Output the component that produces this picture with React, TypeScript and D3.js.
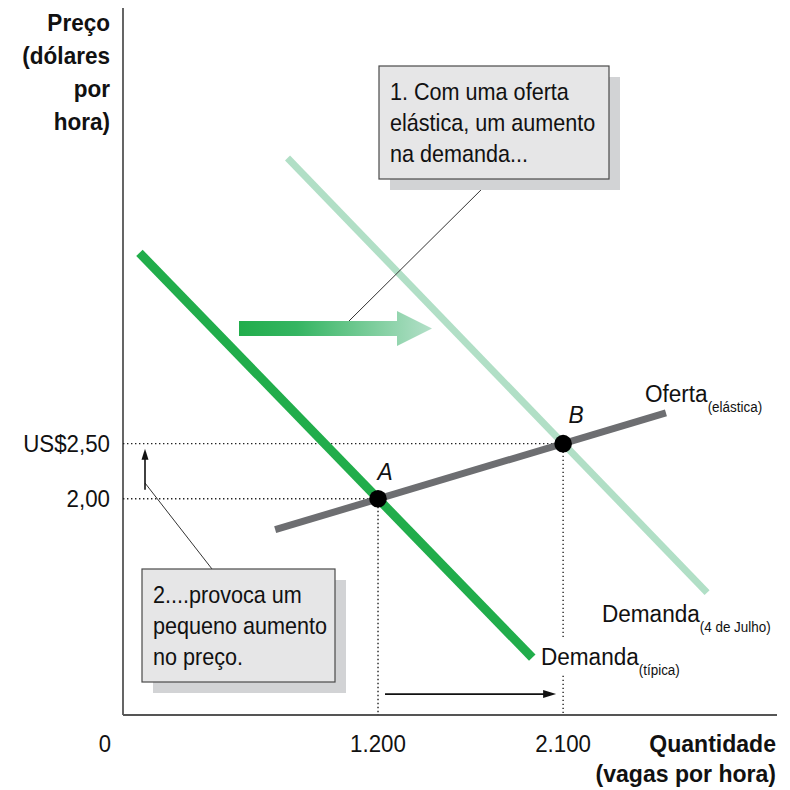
import React from "react";
import * as d3 from "d3";

// quantity (vagas por hora) and price (dólares por hora)
const quantityTicks = [1200, 2100];
const quantityTickLabels = ["1.200", "2.100"];
const priceTicks = [2.0, 2.5];
const priceTickLabels = ["2,00", "US$2,50"];

// curves as [quantity, price] end points
const demandTypical: [number, number][] = [
  [40, 4.23],
  [1950, 0.56],
];
const demandJuly4: [number, number][] = [
  [760, 5.09],
  [2800, 1.15],
];
const supplyElastic: [number, number][] = [
  [700, 1.72],
  [2600, 2.78],
];

const equilibriumNames = ["A", "B"];
const equilibriumQty = [1200, 2100];
const equilibriumPrice = [2.0, 2.5];

const box1Lines = ["1. Com uma oferta", "elástica, um aumento", "na demanda..."];
const box2Lines = ["2....provoca um", "pequeno aumento", "no preço."];
const yTitleLines = ["Preço", "(dólares", "por", "hora)"];

const W = 790;
const H = 790;
const left = 123;
const right = 777;
const top = 8;
const bottom = 715;

const FONT = "'Liberation Sans', Arial, Helvetica, sans-serif";
const DARK_GREEN = "#21ad4b";
const LIGHT_GREEN = "#b1dfc6";
const SUPPLY_GRAY = "#6d6e71";
const BOX_FILL = "#e6e6e7";
const SHADOW = "#d2d3d5";

// slightly condensed text, like the narrow Helvetica of the original
function T(props: {
  x: number;
  y: number;
  size: number;
  sx?: number;
  anchor?: string;
  bold?: boolean;
  italic?: boolean;
  children: React.ReactNode;
}) {
  const { x, y, size, sx = 0.92, anchor = "start", bold, italic, children } = props;
  return (
    <g transform={`translate(${x},${y}) scale(${sx},1)`}>
      <text
        x={0}
        y={0}
        fontSize={size}
        textAnchor={anchor}
        fontWeight={bold ? "bold" : "normal"}
        fontStyle={italic ? "italic" : "normal"}
        fill="#111"
      >
        {children}
      </text>
    </g>
  );
}

export default function App() {
  const x = d3.scaleLinear().domain([-40, 3140]).range([left, right]);
  const y = d3.scaleLinear().domain([0.04, 6.45]).range([bottom, top]);

  const line = d3
    .line<[number, number]>()
    .x((d) => x(d[0]))
    .y((d) => y(d[1]));

  const points = equilibriumNames.map((name, i) => ({
    name,
    q: equilibriumQty[i],
    p: equilibriumPrice[i],
  }));

  const A = points[0];
  const B = points[1];

  // annotation box helper
  const box = (bx: number, by: number, bw: number, bh: number, lines: string[], key: string) => (
    <g key={key}>
      <rect x={bx + 11} y={by + 11} width={bw} height={bh} fill={SHADOW} />
      <rect x={bx} y={by} width={bw} height={bh} fill={BOX_FILL} stroke="#4a4a4a" strokeWidth={1.2} />
      {lines.map((t, i) => (
        <T key={i} x={bx + 11} y={by + 34 + i * 31} size={24} sx={0.9}>
          {t}
        </T>
      ))}
    </g>
  );

  const arrowY = y(0.23);
  const arrowX0 = x(A.q) + 7;
  const arrowX1 = x(B.q) - 7;
  const vArrowX = left + 22;
  const vArrowY0 = y(A.p) - 9;
  const vArrowY1 = y(B.p) + 5;

  return (
    <svg
      width={W}
      height={H}
      style={{ position: "absolute", left: 0, top: 0, background: "#fff" }}
      fontFamily={FONT}
    >
      <defs>
        <linearGradient id="shiftGrad" x1="0" x2="1" y1="0" y2="0">
          <stop offset="0" stopColor="#21ad4b" />
          <stop offset="0.3" stopColor="#35b562" />
          <stop offset="1" stopColor="#b4e0c9" />
        </linearGradient>
      </defs>

      {/* axes */}
      <line x1={left} x2={left} y1={top} y2={bottom} stroke="#555" strokeWidth={1.8} />
      <line x1={left} x2={right} y1={bottom} y2={bottom} stroke="#555" strokeWidth={1.8} />

      {/* axis titles */}
      {yTitleLines.map((t, i) => (
        <T key={t} x={110} y={31 + i * 33} size={24.5} sx={0.92} anchor="end" bold>
          {t}
        </T>
      ))}
      <T x={776} y={752} size={24} sx={0.96} anchor="end" bold>
        Quantidade
      </T>
      <T x={776} y={782} size={24} sx={0.96} anchor="end" bold>
        (vagas por hora)
      </T>

      {/* ticks */}
      <T x={left - 18} y={752} size={24} anchor="middle">
        0
      </T>
      {quantityTicks.map((q, i) => (
        <T key={q} x={x(q)} y={752} size={24} sx={0.93} anchor="middle">
          {quantityTickLabels[i]}
        </T>
      ))}
      {priceTicks.map((p, i) => (
        <T key={p} x={110} y={y(p) + 8.5} size={24} sx={0.93} anchor="end">
          {priceTickLabels[i]}
        </T>
      ))}

      {/* dotted guides */}
      <g stroke="#222" strokeWidth={1.4} strokeDasharray="1.4,2.6" fill="none">
        {points.map((pt) => (
          <g key={pt.name}>
            <line x1={left} x2={x(pt.q)} y1={y(pt.p)} y2={y(pt.p)} />
            <line x1={x(pt.q)} x2={x(pt.q)} y1={y(pt.p)} y2={bottom} />
          </g>
        ))}
      </g>

      {/* demand July 4 */}
      <path d={line(demandJuly4) ?? ""} stroke={LIGHT_GREEN} strokeWidth={7} fill="none" />
      {/* demand typical */}
      <path d={line(demandTypical) ?? ""} stroke={DARK_GREEN} strokeWidth={9} fill="none" />
      {/* supply */}
      <path d={line(supplyElastic) ?? ""} stroke={SUPPLY_GRAY} strokeWidth={7} fill="none" />

      {/* shift arrow */}
      <path
        d="M239,321 L397,321 L397,311 L432,328.5 L397,346 L397,336 L239,336 Z"
        fill="url(#shiftGrad)"
      />

      {/* leader lines */}
      <line x1={492} y1={179} x2={349} y2={321} stroke="#333" strokeWidth={1} />
      <line x1={vArrowX} y1={483} x2={212} y2={569} stroke="#333" strokeWidth={1} />

      {/* small arrows */}
      <line x1={vArrowX} x2={vArrowX} y1={vArrowY0} y2={vArrowY1 + 6} stroke="#111" strokeWidth={1.6} />
      <path
        d={`M${vArrowX},${vArrowY1} L${vArrowX - 3.5},${vArrowY1 + 11} L${vArrowX + 3.5},${vArrowY1 + 11} Z`}
        fill="#111"
      />
      <line x1={arrowX0} x2={arrowX1 - 6} y1={arrowY} y2={arrowY} stroke="#111" strokeWidth={1.8} />
      <path
        d={`M${arrowX1},${arrowY} L${arrowX1 - 13},${arrowY - 4} L${arrowX1 - 13},${arrowY + 4} Z`}
        fill="#111"
      />

      {/* equilibrium points */}
      {points.map((pt) => (
        <g key={pt.name}>
          <circle cx={x(pt.q)} cy={y(pt.p)} r={8.8} fill="#000" />
          <T
            x={x(pt.q) + (pt.name === "A" ? 7 : 13)}
            y={y(pt.p) - (pt.name === "A" ? 19 : 21)}
            size={24}
            sx={0.95}
            anchor="middle"
            italic
          >
            {pt.name}
          </T>
        </g>
      ))}

      {/* curve labels */}
      <rect x={537} y={638} width={150} height={35} fill="#fff" />
      <T x={645} y={402} size={23.5} sx={0.96}>
        Oferta
        <tspan fontSize={14} dy={10}>
          (elástica)
        </tspan>
      </T>
      <T x={602} y={622} size={23.5} sx={0.96}>
        Demanda
        <tspan fontSize={14} dy={10}>
          (4 de Julho)
        </tspan>
      </T>
      <T x={541} y={665} size={23.5} sx={0.96}>
        Demanda
        <tspan fontSize={14} dy={10}>
          (típica)
        </tspan>
      </T>

      {/* annotation boxes */}
      {box(379, 66, 230, 113, box1Lines, "b1")}
      {box(142, 569, 193, 113, box2Lines, "b2")}
    </svg>
  );
}
